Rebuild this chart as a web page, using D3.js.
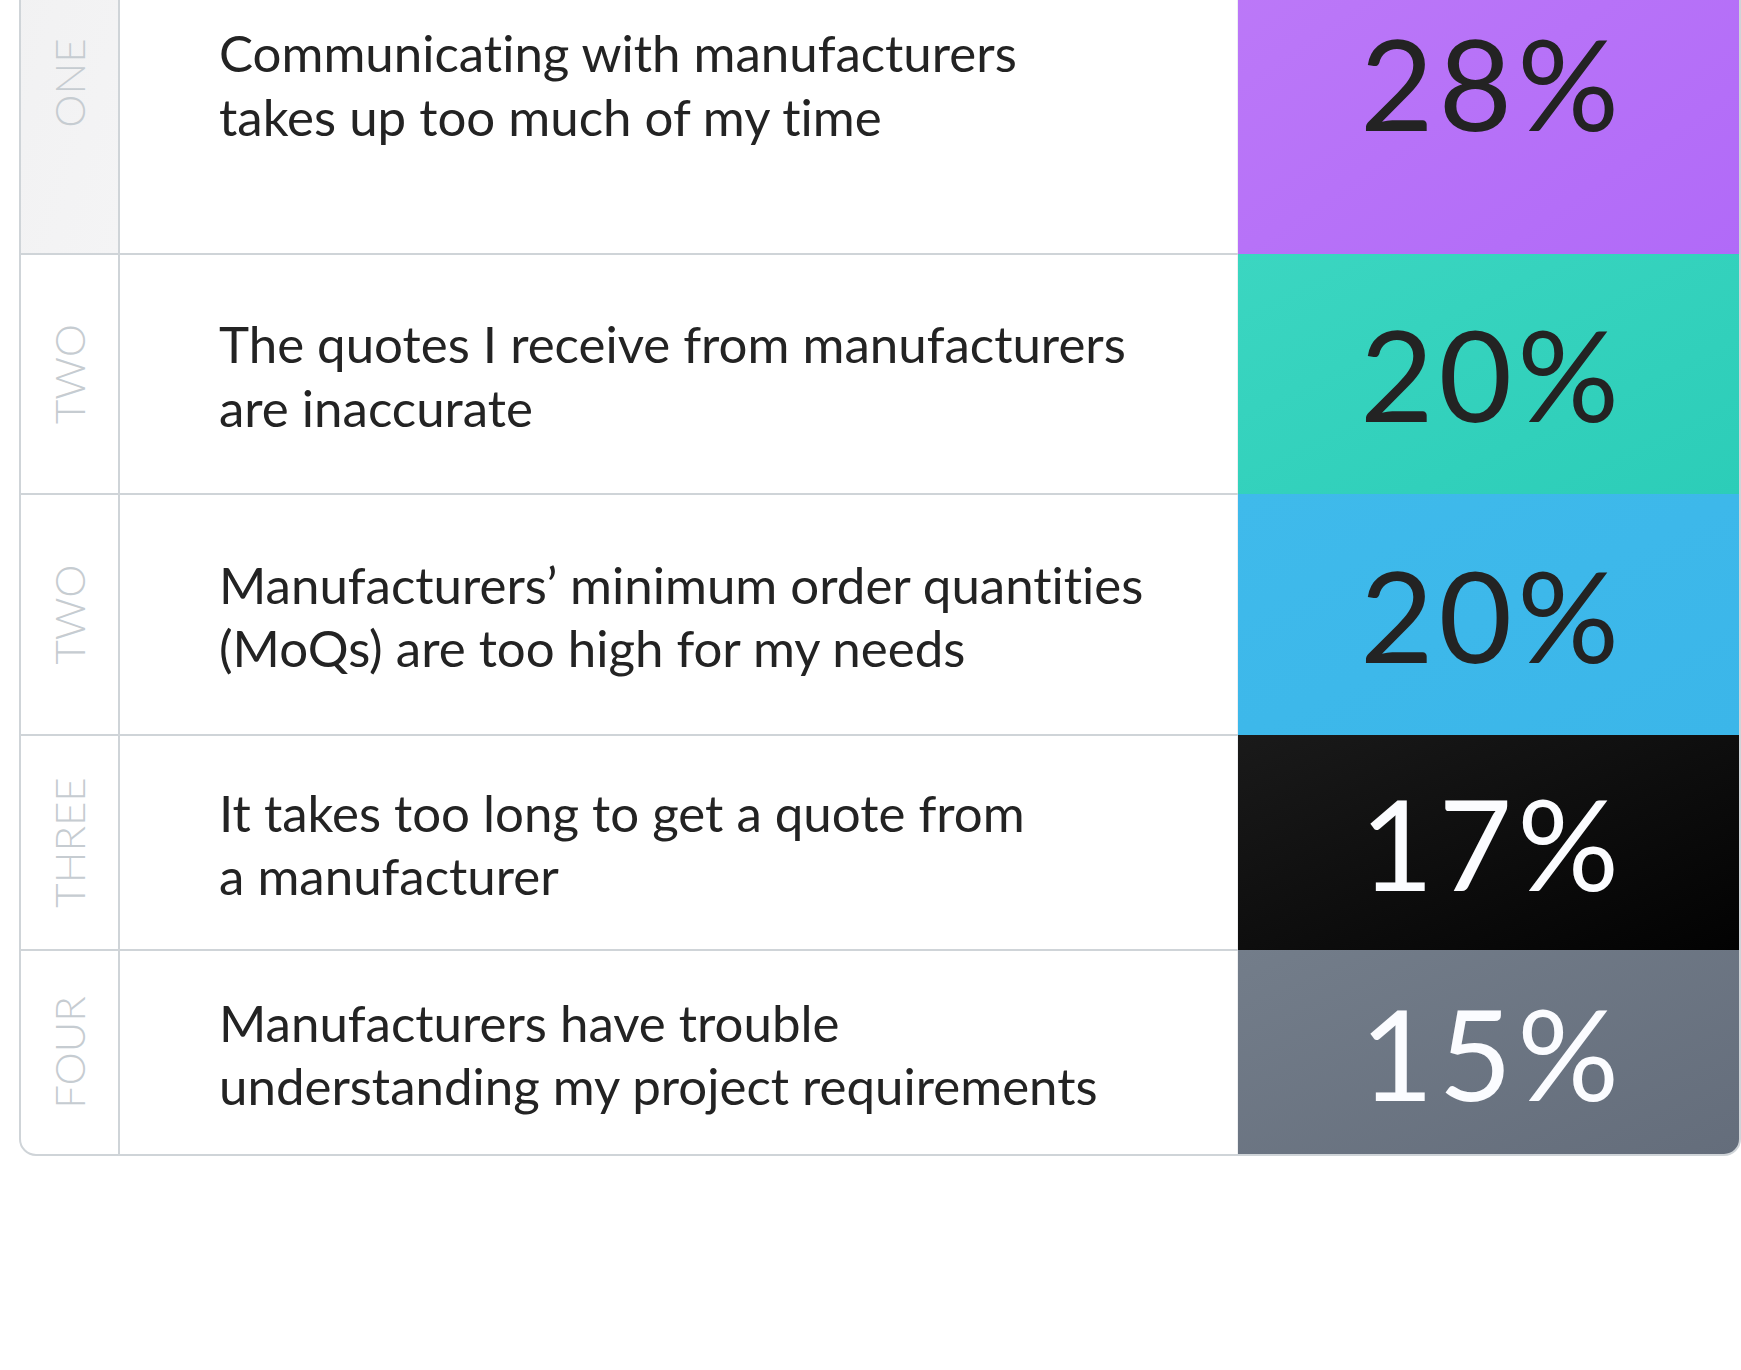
<!DOCTYPE html>
<html>
<head>
<meta charset="utf-8">
<script src="https://cdn.jsdelivr.net/npm/d3@7"></script>
<style>
  html, body { margin: 0; padding: 0; background: #fff; }
  svg { display: block; }
  text { font-variant-ligatures: none; font-feature-settings: "liga" 0; }
</style>
</head>
<body>
<svg id="chart" width="1741" height="1370"></svg>
<script>
// ---- data ----
var ranks = ["ONE", "TWO", "TWO", "THREE", "FOUR"];
var statements = [
  ["Communicating with manufacturers", "takes up too much of my time"],
  ["The quotes I receive from manufacturers", "are inaccurate"],
  ["Manufacturers\u2019 minimum order quantities", "(MoQs) are too high for my needs"],
  ["It takes too long to get a quote from", "a manufacturer"],
  ["Manufacturers have trouble", "understanding my project requirements"]
];
var shares = [28, 20, 20, 17, 15];

// ---- layout / style ----
var svg = d3.select("#chart"),
    width = +svg.attr("width"),
    height = +svg.attr("height");

var tableTop = -88,
    rowHeights = [342, 240, 241, 215, 205]; // first row runs off the top
var edges = [tableTop].concat(Array.from(d3.cumsum(rowHeights), function (h) { return tableTop + h; }));
var tableBottom = edges[edges.length - 1];

var left = 20, rankRight = 119, shareLeft = 1238, right = 1740;
var lineCol = "#cfd4d8";
var palette = [["#bd7af8", "#b16af8"], ["#3bd6c1", "#2ccdb8"], ["#3fbaeb", "#3bb6e9"],
               ["#1a1a1a", "#020202"], ["#737d8a", "#646d7b"]];

var idx = d3.range(ranks.length);
var rowTop = d3.scaleOrdinal().domain(idx).range(edges.slice(0, -1));
var rowH = d3.scaleOrdinal().domain(idx).range(rowHeights);
var fill = d3.scaleOrdinal().domain(idx).range(palette);
var pct = d3.format(".0%");

var defs = svg.append("defs");
defs.append("clipPath").attr("id", "tbl")
  .append("rect")
    .attr("x", left).attr("y", tableTop)
    .attr("width", right - left).attr("height", tableBottom - tableTop)
    .attr("rx", 16);

idx.forEach(function (i) {
  var g = defs.append("linearGradient").attr("id", "g" + i)
      .attr("x1", "0").attr("y1", "0").attr("x2", "1").attr("y2", "1");
  g.append("stop").attr("offset", "0").attr("stop-color", fill(i)[0]);
  g.append("stop").attr("offset", "1").attr("stop-color", fill(i)[1]);
});
var rankGrad = defs.append("linearGradient").attr("id", "rk")
    .attr("x1", "0").attr("y1", "0").attr("x2", "1").attr("y2", "1");
rankGrad.append("stop").attr("offset", "0").attr("stop-color", "#f1f1f2");
rankGrad.append("stop").attr("offset", "1").attr("stop-color", "#f4f4f5");

var table = svg.append("g").attr("clip-path", "url(#tbl)");

table.append("rect")
  .attr("x", left).attr("y", tableTop)
  .attr("width", right - left).attr("height", tableBottom - tableTop)
  .attr("fill", "#fff");

// first rank cell is shaded
table.append("rect")
  .attr("x", left).attr("y", rowTop(0))
  .attr("width", rankRight - left).attr("height", rowH(0))
  .attr("fill", "url(#rk)");

// row separators
table.selectAll("line.sep")
  .data(idx.slice(1))
  .join("line")
    .attr("class", "sep")
    .attr("x1", left).attr("x2", shareLeft)
    .attr("y1", function (i) { return rowTop(i); })
    .attr("y2", function (i) { return rowTop(i); })
    .attr("stroke", lineCol).attr("stroke-width", 2);

table.append("line")
  .attr("x1", rankRight).attr("x2", rankRight)
  .attr("y1", tableTop).attr("y2", tableBottom)
  .attr("stroke", lineCol).attr("stroke-width", 2);

table.append("line")
  .attr("x1", shareLeft).attr("x2", shareLeft)
  .attr("y1", tableTop).attr("y2", tableBottom)
  .attr("stroke", "#dcdfe2").attr("stroke-width", 1);

// coloured share cells
table.selectAll("rect.share")
  .data(idx)
  .join("rect")
    .attr("class", "share")
    .attr("x", shareLeft).attr("y", function (i) { return rowTop(i); })
    .attr("width", right - shareLeft).attr("height", function (i) { return rowH(i); })
    .attr("fill", function (i) { return "url(#g" + i + ")"; });

// outer border
svg.append("rect")
  .attr("x", left).attr("y", tableTop)
  .attr("width", right - left).attr("height", tableBottom - tableTop)
  .attr("rx", 16)
  .attr("fill", "none").attr("stroke", lineCol).attr("stroke-width", 2);

// rank labels (rotated)
svg.selectAll("text.rank")
  .data(idx)
  .join("text")
    .attr("class", "rank")
    .attr("transform", function (i) {
      return "translate(" + ((left + rankRight) / 2) + "," + (rowTop(i) + rowH(i) / 2) + ") rotate(-90)";
    })
    .attr("text-anchor", "middle")
    .attr("dy", "0.36em")
    .attr("font-family", "Lato, sans-serif")
    .attr("font-weight", 300)
    .attr("font-size", 42)
    .attr("fill", "#c6ccd1")
    .text(function (i) { return ranks[i]; });

// statements
var st = svg.selectAll("text.stmt")
  .data(idx)
  .join("text")
    .attr("class", "stmt")
    .attr("x", 219)
    .attr("y", function (i) { return rowTop(i) + rowH(i) / 2 - 11; })
    .attr("font-family", "Lato, sans-serif")
    .attr("font-size", 51)
    .attr("fill", "#232323");
st.selectAll("tspan")
  .data(function (i) { return statements[i]; })
  .join("tspan")
    .attr("x", 219)
    .attr("dy", function (d, j) { return j ? 63.5 : 0; })
    .text(function (d) { return d; });

// share values
svg.selectAll("text.share")
  .data(idx)
  .join("text")
    .attr("class", "share")
    .attr("x", (shareLeft + right) / 2 + 3)
    .attr("y", function (i) { return rowTop(i) + rowH(i) / 2 + 48; })
    .attr("text-anchor", "middle")
    .attr("font-family", "Lato, sans-serif")
    .attr("font-size", 127)
    .attr("letter-spacing", 5)
    .attr("fill", function (i) { return d3.hsl(fill(i)[0]).l < 0.5 ? "#fbfcff" : "#232323"; })
    .text(function (i) { return pct(shares[i] / 100); });
</script>
</body>
</html>
